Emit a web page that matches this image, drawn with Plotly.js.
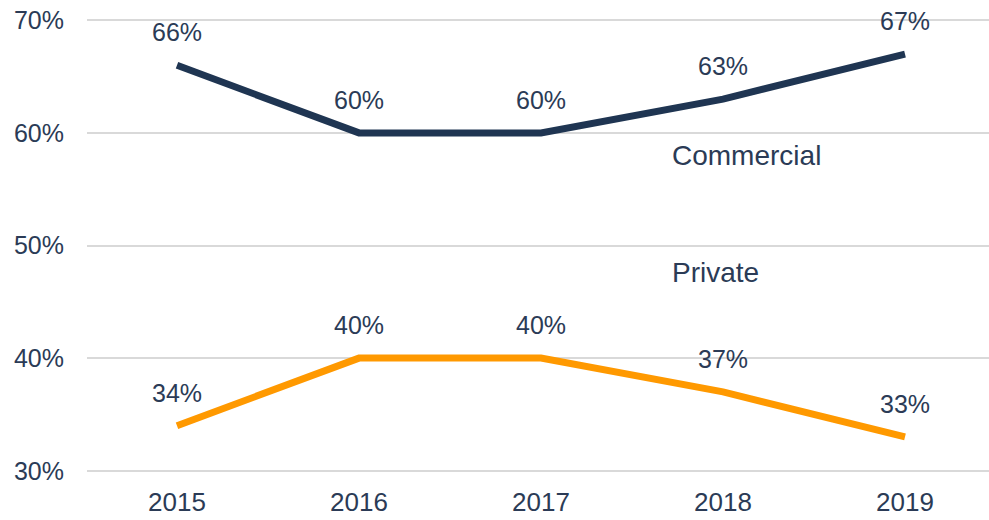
<!DOCTYPE html>
<html>
<head>
<meta charset="utf-8">
<script src="https://cdn.plot.ly/plotly-3.0.1.min.js"></script>
<style>html,body{margin:0;padding:0;background:#fff}#chart{width:989px;height:520px}</style>
</head>
<body>
<div id="chart"></div>
<script>
const years = ['2015', '2016', '2017', '2018', '2019'];
const commercial = [66, 60, 60, 63, 67];
const privateVals = [34, 40, 40, 37, 33];
const seriesNames = ['Commercial', 'Private'];
const yTicks = [30, 40, 50, 60, 70];

const navy = '#1F3552';
const orange = '#FF9900';
const textColor = '#2B3B56';
const font = 'Arial, "Liberation Sans", sans-serif';

const traces = [
  {x: years, y: commercial, type: 'scatter', mode: 'lines', name: seriesNames[0],
   line: {color: navy, width: 7}, hoverinfo: 'skip'},
  {x: years, y: privateVals, type: 'scatter', mode: 'lines', name: seriesNames[1],
   line: {color: orange, width: 7}, hoverinfo: 'skip'}
];

const annotations = [];
[commercial, privateVals].forEach(vals => {
  vals.forEach((v, i) => {
    annotations.push({x: i, y: v, xref: 'x', yref: 'y', text: v + '%',
      showarrow: false, yshift: 33, font: {family: font, size: 25, color: textColor}});
  });
});
annotations.push({x: 2.71, y: 58.0, xref: 'x', yref: 'y', text: seriesNames[0], showarrow: false,
  xanchor: 'left', font: {family: font, size: 28, color: textColor}});
annotations.push({x: 2.71, y: 47.6, xref: 'x', yref: 'y', text: seriesNames[1], showarrow: false,
  xanchor: 'left', font: {family: font, size: 28, color: textColor}});

const layout = {
  width: 989, height: 520,
  margin: {l: 87, r: 0, t: 17.75, b: 46.75},
  paper_bgcolor: '#fff', plot_bgcolor: '#fff',
  showlegend: false,
  font: {family: font, size: 25, color: textColor},
  xaxis: {type: 'category', range: [-0.4945, 4.4615], showgrid: false, zeroline: false,
    showline: false, ticks: '', ticklabelstandoff: 11,
    tickfont: {family: font, size: 26, color: textColor}},
  yaxis: {range: [29.8, 70.2], tickvals: yTicks, ticktext: yTicks.map(v => v + '%'),
    showgrid: true, gridcolor: '#D9D9D9', gridwidth: 2, zeroline: false, showline: false,
    ticks: '', ticklabelstandoff: 22,
    tickfont: {family: font, size: 25, color: textColor}},
  annotations: annotations
};

Plotly.newPlot('chart', traces, layout, {staticPlot: true, displayModeBar: false});
</script>
</body>
</html>
